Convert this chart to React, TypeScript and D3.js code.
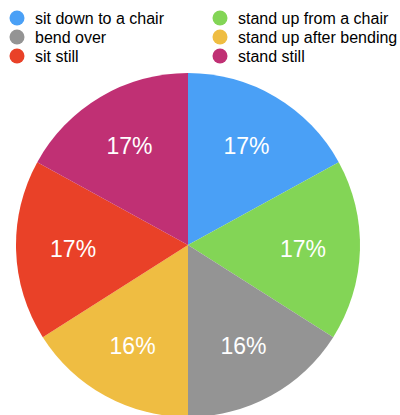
import React from "react";
import * as d3 from "d3";

const categories = ["sit down to a chair", "stand up from a chair", "bend over", "stand up after bending", "sit still", "stand still"];
const values = [17, 17, 16, 16, 17, 17];
const colors = ["#4AA0F6", "#83D556", "#949494", "#EFBD42", "#E94128", "#C03074"];
const legendOrder = [0, 1, 2, 3, 4, 5];

export default function App() {
  const W = 400, H = 415;
  const cx = 188, cy = 245, r = 172;
  const total = d3.sum(values);
  const pie = d3.pie<number>().sort(null).value((d) => d)(values);
  const arc = d3.arc<d3.PieArcDatum<number>>().innerRadius(0).outerRadius(r);
  const labelArc = d3.arc<d3.PieArcDatum<number>>().innerRadius(115).outerRadius(115);
  const font = "'Liberation Sans', Arial, Helvetica, sans-serif";
  return (
    <svg width={W} height={H} style={{ position: "absolute", left: 0, top: 0, display: "block" }} fontFamily={font}>
      <g transform={`translate(${cx},${cy})`}>
        {pie.map((p, i) => (
          <path key={i} d={arc(p) || ""} fill={colors[i]} />
        ))}
        {pie.map((p, i) => {
          const [x, y] = labelArc.centroid(p);
          return (
            <text key={i} x={x} y={y} dy="0.35em" textAnchor="middle" fill="#fff" fontSize={23}>
              {Math.round((values[i] / total) * 100)}%
            </text>
          );
        })}
      </g>
      {legendOrder.map((idx, k) => {
        const col = k % 2, row = Math.floor(k / 2);
        const x = col === 0 ? 17 : 220;
        const y = 18 + row * 19;
        return (
          <g key={idx}>
            <circle cx={x} cy={y} r={7.5} fill={colors[idx]} />
            <text x={x + 18} y={y} dy="0.35em" fontSize={16} fill="#000">{categories[idx]}</text>
          </g>
        );
      })}
    </svg>
  );
}
